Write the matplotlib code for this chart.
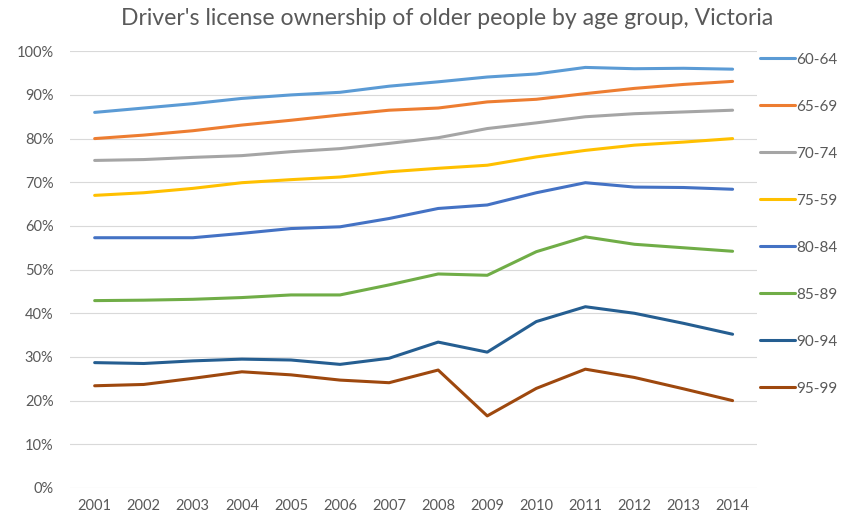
import matplotlib
matplotlib.use("Agg")
import matplotlib.pyplot as plt
from matplotlib.ticker import PercentFormatter

plt.rcParams['font.family'] = ['Lato', 'DejaVu Sans']

years = list(range(2001, 2015))

# licence ownership (%) per age group
age_60_64 = [86.0, 87.0, 88.0, 89.2, 90.0, 90.6, 92.0, 93.0, 94.1, 94.8, 96.3, 96.0, 96.1, 95.9]
age_65_69 = [80.0, 80.8, 81.8, 83.1, 84.2, 85.4, 86.5, 87.0, 88.4, 89.0, 90.3, 91.5, 92.4, 93.1]
age_70_74 = [75.0, 75.2, 75.7, 76.1, 77.0, 77.7, 78.9, 80.2, 82.3, 83.6, 85.0, 85.7, 86.1, 86.5]
age_75_79 = [67.0, 67.6, 68.6, 69.9, 70.6, 71.2, 72.4, 73.2, 73.9, 75.8, 77.3, 78.5, 79.2, 80.0]
age_80_84 = [57.3, 57.3, 57.3, 58.3, 59.4, 59.8, 61.7, 64.0, 64.8, 67.6, 69.9, 68.9, 68.8, 68.4]
age_85_89 = [42.9, 43.0, 43.2, 43.6, 44.2, 44.2, 46.5, 49.0, 48.7, 54.1, 57.5, 55.8, 55.0, 54.2]
age_90_94 = [28.7, 28.5, 29.1, 29.5, 29.3, 28.3, 29.7, 33.4, 31.1, 38.1, 41.5, 40.0, 37.7, 35.2]
age_95_99 = [23.4, 23.7, 25.1, 26.6, 25.9, 24.7, 24.1, 27.0, 16.5, 22.8, 27.2, 25.3, 22.7, 20.0]

labels = ['60-64', '65-69', '70-74', '75-59', '80-84', '85-89', '90-94', '95-99']
series = [age_60_64, age_65_69, age_70_74, age_75_79,
          age_80_84, age_85_89, age_90_94, age_95_99]
colors = ['#5B9BD5', '#ED7D31', '#A5A5A5', '#FFC000',
          '#4472C4', '#70AD47', '#255E91', '#9E480E']

fig = plt.figure(figsize=(8.45, 5.23), dpi=100)
ax = fig.add_axes([0.083, 0.067, 0.813, 0.835])

for vals, lab, col in zip(series, labels, colors):
    ax.plot(years, vals, color=col, lw=2.2, label=lab, solid_capstyle='round')

ax.set_xlim(years[0] - 0.5, years[-1] + 0.5)
ax.set_ylim(0, 100)
ax.set_yticks(range(0, 101, 10))
ax.yaxis.set_major_formatter(PercentFormatter(decimals=0))
ax.set_xticks(years)
ax.grid(axis='y', color='#D9D9D9', lw=0.8)
ax.set_axisbelow(True)
for s in ax.spines.values():
    s.set_visible(False)
ax.tick_params(length=0, colors='#595959', labelsize=10.5)
ax.tick_params(axis='y', pad=12)
ax.tick_params(axis='x', pad=8)

fig.text(0.529, 0.965, "Driver's license ownership of older people by age group, Victoria",
         ha='center', va='center', fontsize=16.6, color='#595959')

leg = ax.legend(loc='upper left', bbox_to_anchor=(0.899, 0.899), bbox_transform=fig.transFigure,
                frameon=False, fontsize=11, handlelength=2.3, handletextpad=0.1,
                labelspacing=2.16, borderaxespad=0, borderpad=0)
for t in leg.get_texts():
    t.set_color('#595959')

fig.savefig('out.png', dpi=100, facecolor='white')
